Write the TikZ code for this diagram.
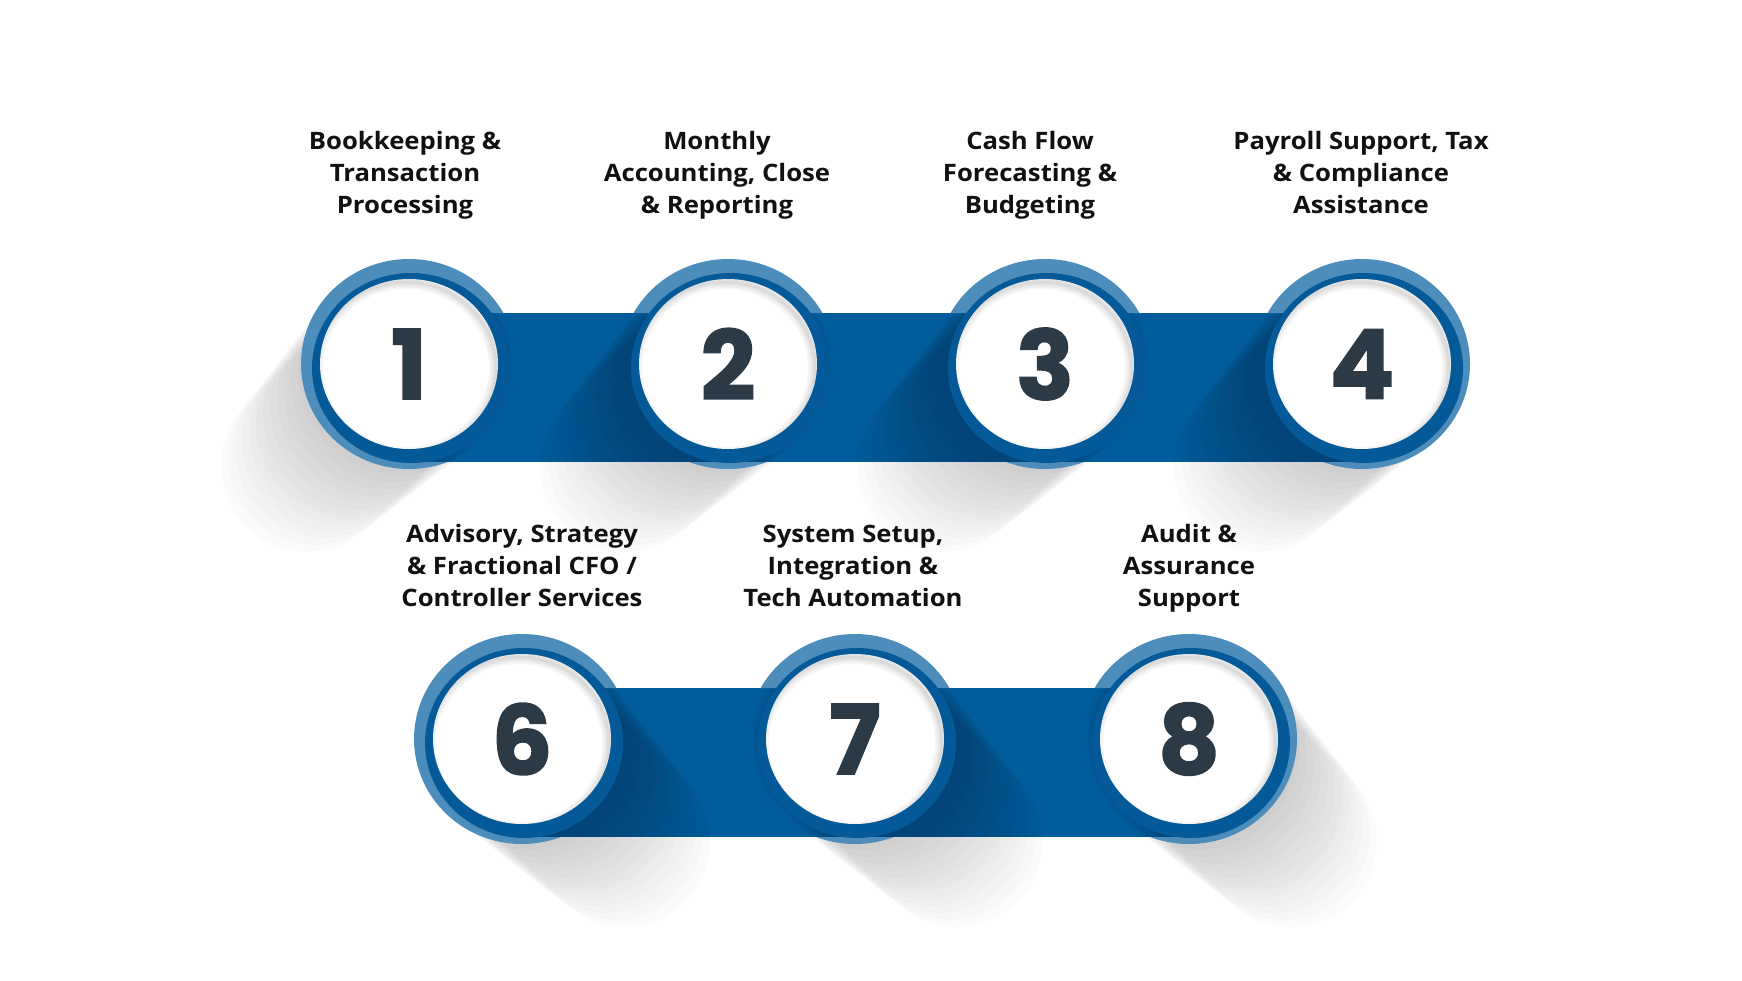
\documentclass[tikz,border=0pt]{standalone}
\usepackage{fontspec}
\usetikzlibrary{shapes.geometric}
\setmainfont{Open Sans}[FakeStretch=1.07]
\newfontfamily\digitfont{Poppins}[BoldFeatures={FakeBold=1.6}]
\definecolor{bandblue}{RGB}{0,92,155}
\definecolor{lightring}{RGB}{77,141,187}
\definecolor{darkring}{RGB}{4,89,152}
\definecolor{digitc}{RGB}{44,58,70}
\definecolor{lblc}{RGB}{17,17,17}
\tikzset{
  lbl/.style={align=center, anchor=north, font=\fontsize{24}{32}\selectfont\bfseries, text=lblc, inner sep=0pt,
    execute at begin node=\strut, execute at end node=\strut},
  disk/.style={ellipse, fill=white, minimum width=178pt, minimum height=170pt, inner sep=0pt,
    font=\digitfont\fontsize{96}{96}\selectfont\bfseries, text=digitc},
  bandfill/.style={fill=bandblue},
  shadowlayer/.style={fill=black, opacity=0.014},
}
% long soft shadow: centre x, centre y, direction angle
\newcommand\longshadow[3]{%
  \begin{scope}[even odd rule]
    \clip (-100,-100) rectangle (1900,1100) ({#1+2},{#2+4}) ellipse (99 and 95);
    \foreach \k in {1,...,12}{%
      \pgfmathsetmacro\len{\k*12}%
      \pgfmathsetmacro\rad{104-1.5*\k}%
      \fill[shadowlayer, shift={(#1,#2)}, rotate=#3]
        (0,-\rad) -- (\len,-\rad) arc(-90:90:\rad) -- (0,\rad) arc(90:270:\rad) -- cycle;
    }
  \end{scope}}
\newcommand\darkringat[2]{\fill[darkring] ({#1+2},{#2+4}) ellipse (99 and 95);}
\newcommand\innershadow[2]{%
  \begin{scope}
    \clip (#1,#2) ellipse (89 and 85);
    \foreach \w in {3,6,10,14}{\draw[black, opacity=0.035, line width=\w pt] ({#1-3},{#2+4}) ellipse (90 and 86);}
  \end{scope}}
\begin{document}
\begin{tikzpicture}[x=1pt,y=-1pt]
\useasboundingbox (0,0) rectangle (1742,980);
\fill[white] (0,0) rectangle (1742,980);
% bands
\fill[bandfill] (409,313) rectangle (1362,462);
\fill[bandfill] (522,688) rectangle (1189,837);
% long shadows
\longshadow{409}{364}{-135}
\longshadow{728}{364}{-135}
\longshadow{1045}{364}{-135}
\longshadow{1362}{364}{-135}
\longshadow{522}{739}{-45}
\longshadow{855}{739}{-45}
\longshadow{1189}{739}{-45}
% light outer rings (only outside the bands)
\begin{scope}[even odd rule]
  \clip (-100,-100) rectangle (1900,1100) (409,313) rectangle (1362,462) (522,688) rectangle (1189,837);
  \foreach \cx/\cy in {409/364,728/364,1045/364,1362/364,522/739,855/739,1189/739}{
    \fill[lightring] (\cx,\cy) ellipse (108 and 105);
  }
\end{scope}
% dark rings
\darkringat{409}{364}
\darkringat{728}{364}
\darkringat{1045}{364}
\darkringat{1362}{364}
\darkringat{522}{739}
\darkringat{855}{739}
\darkringat{1189}{739}
% white disks with numbers
\node[disk] (c1) at (409,364) {1};
\node[disk] (c2) at (728,364) {2};
\node[disk] (c3) at (1045,364) {3};
\node[disk] (c4) at (1362,364) {4};
\node[disk] (c6) at (522,739) {6};
\node[disk] (c7) at (855,739) {7};
\node[disk] (c8) at (1189,739) {8};
\innershadow{409}{364}
\innershadow{728}{364}
\innershadow{1045}{364}
\innershadow{1362}{364}
\innershadow{522}{739}
\innershadow{855}{739}
\innershadow{1189}{739}
% labels
\node[lbl] (t1) at (405,131.5) {Bookkeeping \&\\Transaction\\Processing};
\node[lbl] (t2) at (717,131.5) {Monthly\\Accounting, Close\\\& Reporting};
\node[lbl] (t3) at (1030,131.5) {Cash Flow\\Forecasting \&\\Budgeting};
\node[lbl] (t4) at (1361,131.5) {Payroll Support, Tax\\\& Compliance\\Assistance};
\node[lbl] (t6) at (522,524.5) {Advisory, Strategy\\\& Fractional CFO /\\Controller Services};
\node[lbl] (t7) at (853,524.5) {System Setup,\\Integration \&\\Tech Automation};
\node[lbl] (t8) at (1189,524.5) {Audit \&\\Assurance\\Support};
\end{tikzpicture}
\end{document}
